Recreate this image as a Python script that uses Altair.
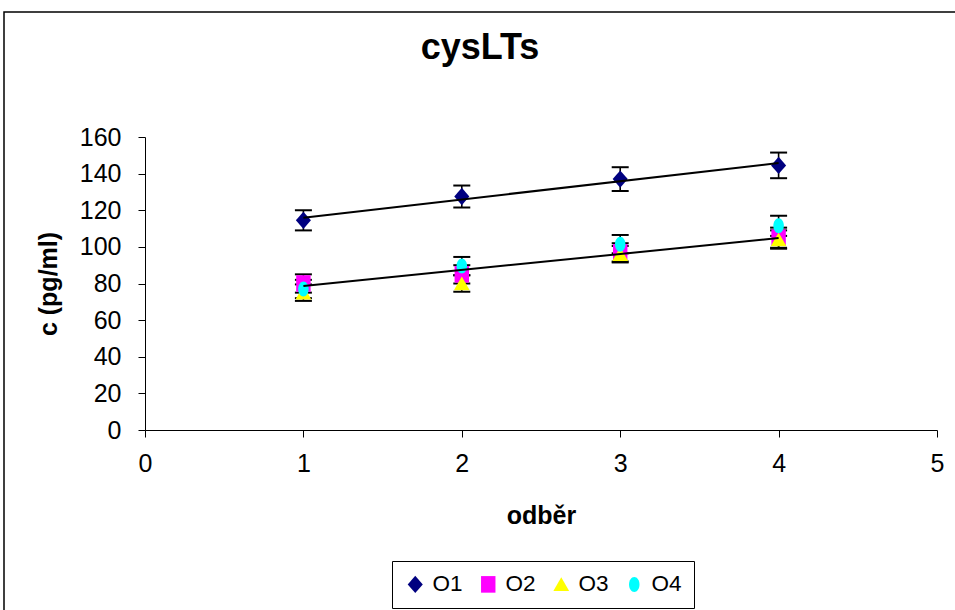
import altair as alt
import pandas as pd

# ---- data ----
series = ["O1", "O2", "O3", "O4"]
odber = [1, 2, 3, 4]
o1 = [114.5, 127.5, 137.0, 144.5]
o2 = [80.0, 85.0, 97.0, 105.0]
o3 = [75.0, 80.0, 96.0, 104.0]
o4 = [77.0, 89.5, 101.5, 111.5]
e1 = [5.5, 6.0, 6.5, 7.0]
e2 = [5.0, 5.0, 5.0, 5.5]
e3 = [4.5, 4.5, 4.5, 5.0]
e4 = [5.0, 5.0, 5.0, 5.5]
colors = ["#000080", "#FF00FF", "#FFFF00", "#00FFFF"]
trend_series = ["O1", "O2"]
x_ticks = [0, 1, 2, 3, 4, 5]
y_ticks = [0, 20, 40, 60, 80, 100, 120, 140, 160]

shapes = [
    "M0,-1L0.87,0L0,1L-0.87,0Z",
    "M-0.87,-1H0.87V1H-0.87Z",
    "M0,-0.9L1,0.85H-1Z",
    "M-0.7,0A0.7,1 0 1,0 0.7,0A0.7,1 0 1,0 -0.7,0Z",
]
sizes = [300, 225, 196, 280]

rows = []
for s, ys, es in zip(series, [o1, o2, o3, o4], [e1, e2, e3, e4]):
    for x, y, e in zip(odber, ys, es):
        rows.append({"series": s, "x": x, "y": y, "lo": y - e, "hi": y + e})
df = pd.DataFrame(rows)

FONT = "Liberation Sans"
xscale = alt.Scale(domain=[0, 5], nice=False, zero=False)
yscale = alt.Scale(domain=[0, 160], nice=False)

xaxis = alt.Axis(title="odběr", values=x_ticks, format="d", grid=False, labelOverlap=False,
                 labelFlush=False, labelPadding=14, titleY=85, titleBaseline="middle")
yaxis = alt.Axis(title="c (pg/ml)", values=y_ticks, format="d", grid=False, labelOverlap=False,
                 labelPadding=17, titleX=-97, titleBaseline="middle")


def X(field):
    return alt.X(field, scale=xscale, axis=xaxis)


def Y(field):
    return alt.Y(field, scale=yscale, axis=yaxis)


base = alt.Chart(df)

border = alt.Chart(alt.Data(values=[{}])).mark_rect(
    fillOpacity=0, stroke="black", strokeWidth=1.5
).encode(x=alt.value(-141), y=alt.value(-125), x2=alt.value(840), y2=alt.value(500))

bars = base.mark_rule(color="black", strokeWidth=1.6).encode(
    x=X("x:Q"), y=Y("lo:Q"), y2="hi:Q",
)
cap_lo = base.mark_rule(color="black", strokeWidth=2, xOffset=-8.5, x2Offset=8.5).encode(
    x=X("x:Q"), x2="x:Q", y=Y("lo:Q")
)
cap_hi = base.mark_rule(color="black", strokeWidth=2, xOffset=-8.5, x2Offset=8.5).encode(
    x=X("x:Q"), x2="x:Q", y=Y("hi:Q")
)

legend = alt.Legend(
    orient="none", legendX=247, legendY=424, direction="horizontal", columns=4,
    title=None, strokeColor="black", fillColor="white", padding=12,
    labelFontSize=22.5, labelFont=FONT, labelColor="black", symbolSize=110,
    labelOffset=6, columnPadding=14, symbolStrokeWidth=0,
)

points = base.mark_point(filled=True, opacity=1).encode(
    x=X("x:Q"),
    y=Y("y:Q"),
    color=alt.Color("series:N", scale=alt.Scale(domain=series, range=colors), legend=legend),
    shape=alt.Shape("series:N", scale=alt.Scale(domain=series, range=shapes), legend=legend),
    size=alt.Size("series:N", scale=alt.Scale(domain=series, range=sizes), legend=None),
)

trend = base.transform_filter(
    alt.FieldOneOfPredicate(field="series", oneOf=trend_series)
).transform_regression("x", "y", groupby=["series"]).mark_line(
    color="black", strokeWidth=2
).encode(x=X("x:Q"), y=Y("y:Q"), detail="series:N")

chart = alt.layer(border, bars, cap_lo, cap_hi, points, trend).properties(
    width=792,
    height=293,
    background="white",
    padding={"left": 145, "top": 137, "right": 18, "bottom": 180},
    autosize=alt.AutoSizeParams(type="none"),
    title=alt.TitleParams(
        "cysLTs", fontSize=36, font=FONT, fontWeight="bold", color="black",
        anchor="middle", frame="group", dx=-61, dy=84, offset=0, baseline="alphabetic",
    ),
).configure_view(strokeWidth=0).configure_axis(
    domainColor="black", tickColor="black", labelColor="black", titleColor="black",
    labelFont=FONT, titleFont=FONT, labelFontSize=25, titleFontSize=25,
    titleFontWeight="bold", tickSize=7, domainWidth=1, tickWidth=1,
)

chart.save("out.html", embed_options={"renderer": "svg", "actions": False})
